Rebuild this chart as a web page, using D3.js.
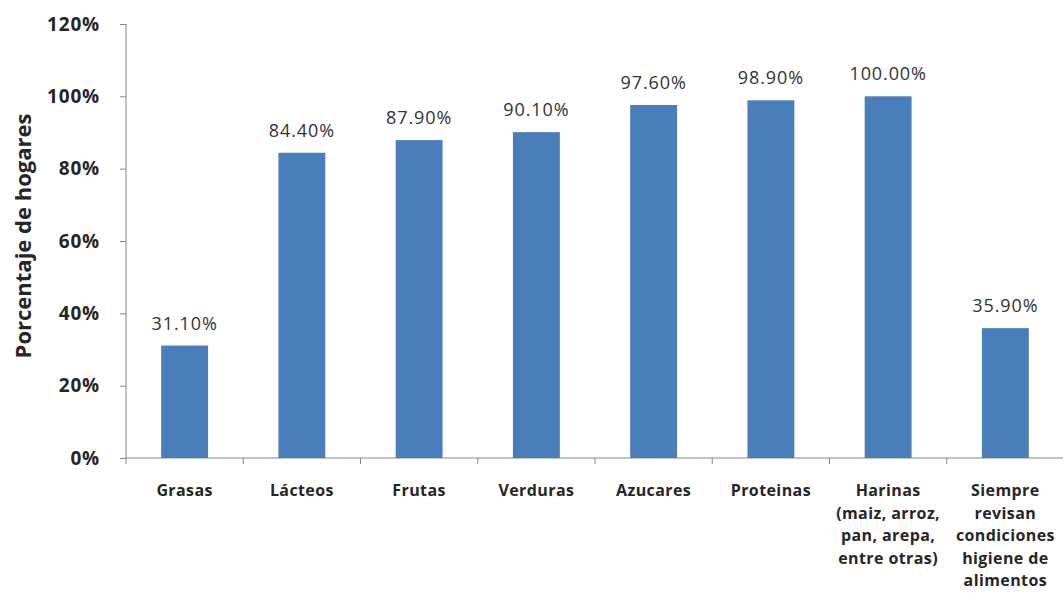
<!DOCTYPE html>
<html>
<head>
<meta charset="utf-8">
<script src="https://d3js.org/d3.v7.min.js"></script>
<style>
  body { margin: 0; background: #fff; }
  .axis path, .axis line { stroke: #868686; }
  .ytick text { font: bold 19px "Open Sans", sans-serif; fill: #262626; letter-spacing: 0.8px; }
  .xlab { font: bold 16px "Open Sans", sans-serif; fill: #262626; letter-spacing: 0.4px; }
  .val { font: 18px "Open Sans", sans-serif; fill: #333; letter-spacing: 0.9px; }
</style>
</head>
<body>
<div id="chart"></div>
<script>
  const categories = [
    ["Grasas"],
    ["Lácteos"],
    ["Frutas"],
    ["Verduras"],
    ["Azucares"],
    ["Proteinas"],
    ["Harinas", "(maiz, arroz,", "pan, arepa,", "entre otras)"],
    ["Siempre", "revisan", "condiciones", "higiene de", "alimentos"]
  ];
  const values = [31.1, 84.4, 87.9, 90.1, 97.6, 98.9, 100.0, 35.9];
  const yTicks = [0, 20, 40, 60, 80, 100, 120];

  const width = 1063, height = 605;
  const svg = d3.select("#chart").append("svg")
      .attr("width", width).attr("height", height);

  const x = d3.scaleBand()
      .domain(d3.range(values.length))
      .range([126, 1064])
      .paddingInner(0.6)
      .paddingOuter(0.3);

  const y = d3.scaleLinear().domain([0, 120]).range([458, 24]);

  // y axis
  const yAxis = svg.append("g").attr("class", "axis ytick")
      .attr("transform", "translate(126,0)")
      .call(d3.axisLeft(y).tickValues(yTicks).tickSize(6).tickPadding(20)
        .tickFormat(d => d + "%"));
  yAxis.select(".domain").attr("d", "M0," + y(120) + "V" + y(0));

  // x axis with ticks at band boundaries
  const xg = svg.append("g").attr("class", "axis");
  xg.append("line").attr("x1", 126).attr("x2", 1064)
      .attr("y1", y(0)).attr("y2", y(0));
  xg.selectAll(".xt").data(d3.range(values.length + 1)).join("line")
      .attr("x1", i => 126 + i * (1064 - 126) / values.length)
      .attr("x2", i => 126 + i * (1064 - 126) / values.length)
      .attr("y1", y(0)).attr("y2", y(0) + 6);

  // bars
  svg.selectAll(".bar").data(values).join("rect")
      .attr("x", (d, i) => x(i))
      .attr("width", x.bandwidth())
      .attr("y", d => y(d))
      .attr("height", d => y(0) - y(d))
      .attr("fill", "#4a7ebb");

  // value labels
  svg.selectAll(".val").data(values).join("text")
      .attr("class", "val")
      .attr("text-anchor", "middle")
      .attr("x", (d, i) => x(i) + x.bandwidth() / 2)
      .attr("y", d => y(d) - 16)
      .text(d => d.toFixed(2) + "%");

  // category labels
  const labs = svg.selectAll(".xlab").data(categories).join("text")
      .attr("class", "xlab")
      .attr("text-anchor", "middle")
      .attr("y", 496);
  labs.each(function(lines, i) {
    d3.select(this).selectAll("tspan").data(lines).join("tspan")
      .attr("x", x(i) + x.bandwidth() / 2)
      .attr("dy", (d, j) => j === 0 ? 0 : 22.5)
      .text(d => d);
  });

  // y axis title
  svg.append("text")
      .attr("transform", "translate(31,236) rotate(-90)")
      .attr("text-anchor", "middle")
      .style("font", "bold 22px 'Open Sans', sans-serif")
      .attr("fill", "#262626")
      .text("Porcentaje de hogares");
</script>
</body>
</html>
